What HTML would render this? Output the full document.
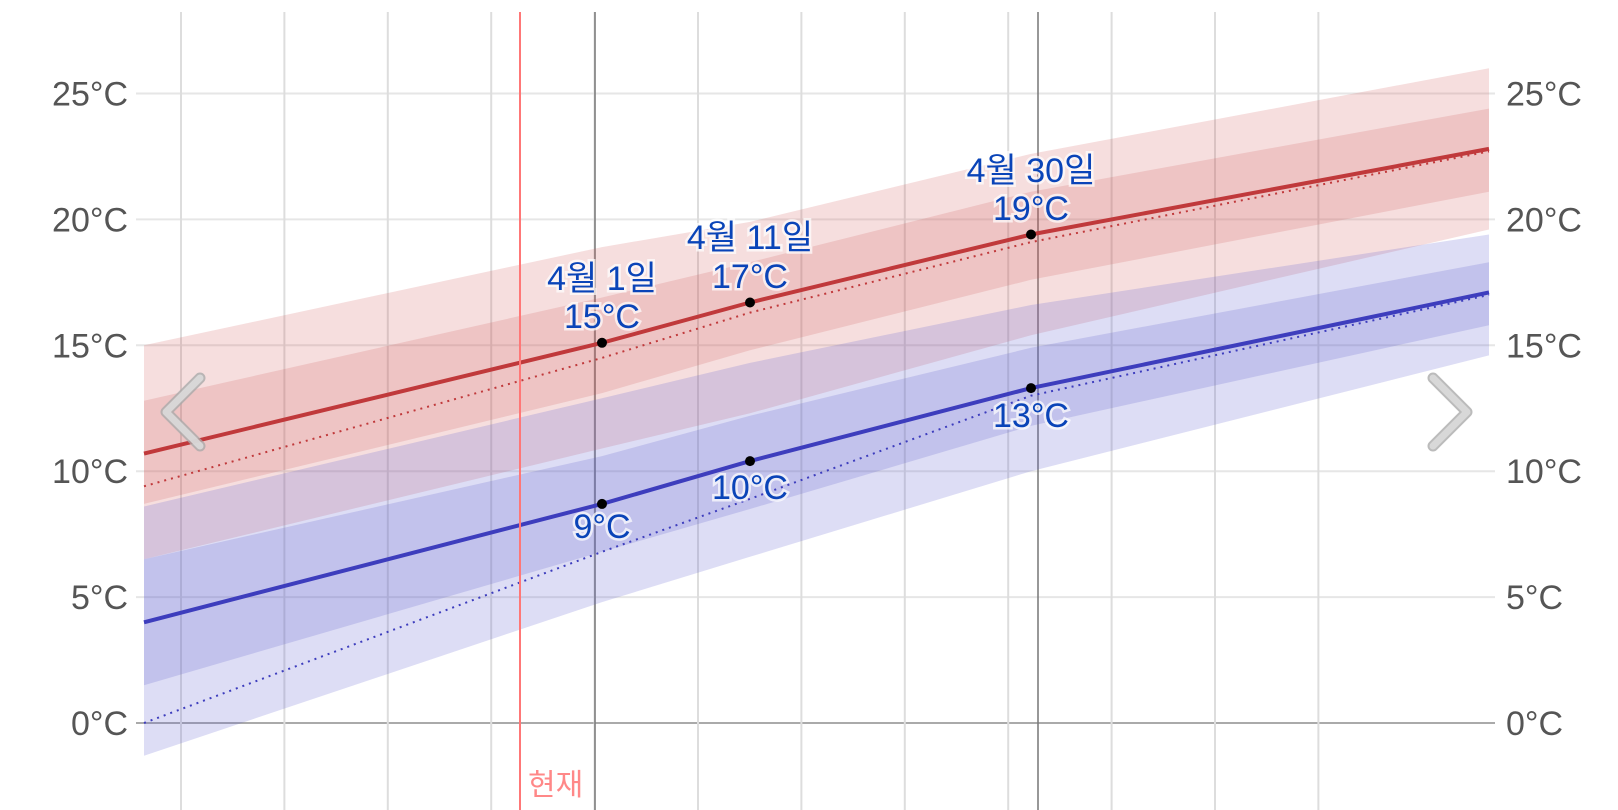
<!DOCTYPE html>
<html><head><meta charset="utf-8"><style>
html,body{margin:0;padding:0;background:#fff;}
svg{display:block}
text{font-family:"Liberation Sans","Noto Sans CJK KR",sans-serif;}
.ax{font-size:34px;fill:#555;}
.lb{font-size:34px;fill:#0a44b8;stroke:#fff;stroke-width:5px;stroke-opacity:0.7;paint-order:stroke;text-anchor:middle;}
</style></head><body>
<svg id="s" width="1618" height="810" xmlns="http://www.w3.org/2000/svg">
<g id="grid"></g>
<g id="bands"></g>
<g id="lines"></g>
<g id="fg"></g>
</svg>
<script>
var NS="http://www.w3.org/2000/svg";
function Y(v){return 723-25.18*v;}
function el(p,t,a,txt){var e=document.createElementNS(NS,t);for(var k in a)e.setAttribute(k,a[k]);if(txt!==undefined)e.textContent=txt;document.getElementById(p).appendChild(e);return e;}
[0,5,10,15,20,25].forEach(function(v){
 el("grid","line",{x1:136,x2:1495,y1:Y(v),y2:Y(v),stroke:v==0?"#aaa":"#e6e6e6","stroke-width":2});
 el("fg","text",{x:128,y:Y(v)+12,"class":"ax","text-anchor":"end"},v+"°C");
 el("fg","text",{x:1506,y:Y(v)+12,"class":"ax"},v+"°C");
});
for(var i=0;i<12;i++){var x=181+103.4*i;el("grid","line",{x1:x,x2:x,y1:12,y2:810,stroke:"#ddd","stroke-width":2});}
el("grid","line",{x1:595,x2:595,y1:12,y2:810,stroke:"#777","stroke-width":1.5});
el("grid","line",{x1:1038,x2:1038,y1:12,y2:810,stroke:"#777","stroke-width":1.5});
var X=[144,602,750,1031,1489];
function interp(vals){var pts=[];for(var i=0;i<vals.length;i++)pts.push([X[i],Y(vals[i])]);return pts;}
function path(pts){return "M"+pts.map(function(p){return p[0].toFixed(1)+","+p[1].toFixed(1)}).join("L");}
function band(top,bot,fill){var t=interp(top),b=interp(bot).reverse();el("bands","path",{d:path(t.concat(b))+"Z",fill:fill});}
band([15.0,18.9,19.9,22.6,26.0],[6.5,10.9,12.3,15.4,19.6],"rgba(210,90,90,0.2)");
band([12.8,16.9,18.3,21.1,24.4],[8.7,13.1,14.8,17.6,21.1],"rgba(200,70,70,0.17)");
band([8.6,12.9,14.3,16.6,19.4],[-1.3,4.8,6.6,10.0,14.6],"rgba(100,100,210,0.22)");
band([6.5,10.6,12.2,14.9,18.3],[1.5,6.8,8.5,11.8,15.8],"rgba(90,90,200,0.2)");
el("lines","path",{d:path(interp([9.4,14.5,16.3,19.1,22.7])),fill:"none",stroke:"#c0393b","stroke-width":2,"stroke-dasharray":"2 5"});
el("lines","path",{d:path(interp([0,6.8,8.9,13.0,17.0])),fill:"none",stroke:"#3d3dbd","stroke-width":2,"stroke-dasharray":"2 5"});
el("lines","path",{d:path(interp([10.7,15.1,16.7,19.4,22.8])),fill:"none",stroke:"#c0393b","stroke-width":4});
el("lines","path",{d:path(interp([4.0,8.7,10.4,13.3,17.1])),fill:"none",stroke:"#3d3dbd","stroke-width":4});
el("lines","line",{x1:520,x2:520,y1:12,y2:810,stroke:"#f77","stroke-width":2});
el("fg","text",{x:528,y:795,style:"font-size:30px;fill:#f88"},"현재");
[[602,15.1],[750,16.7],[1031,19.4],[602,8.7],[750,10.4],[1031,13.3]].forEach(function(d){el("fg","circle",{cx:d[0],cy:Y(d[1]),r:5,fill:"#000"});});
function lb(x,y,t){el("fg","text",{x:x,y:y,"class":"lb"},t);}
lb(602,290,"4월 1일");lb(602,328,"15°C");
lb(750,249,"4월 11일");lb(750,288,"17°C");
lb(1031,182,"4월 30일");lb(1031,220,"19°C");
lb(602,538,"9°C");lb(750,499,"10°C");lb(1031,427,"13°C");
[["M200,378L166,412L200,446"],["M1433,378L1467,412L1433,446"]].forEach(function(d){
 el("fg","path",{d:d[0],fill:"none",stroke:"#aaa","stroke-width":11,"stroke-linecap":"round","stroke-linejoin":"round","stroke-opacity":0.8});
 el("fg","path",{d:d[0],fill:"none",stroke:"#ddd","stroke-width":7,"stroke-linecap":"round","stroke-linejoin":"round","stroke-opacity":0.85});
});
</script>
</body></html>
